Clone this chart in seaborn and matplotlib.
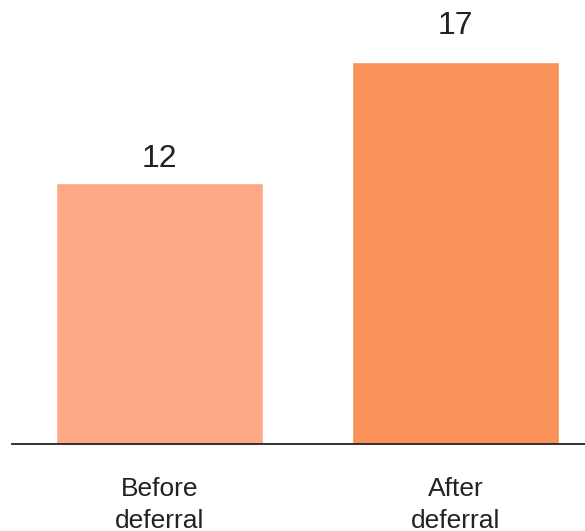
import matplotlib
matplotlib.use("Agg")
import matplotlib.pyplot as plt
import seaborn as sns
import pandas as pd

# Data
categories = ["Before\ndeferral", "After\ndeferral"]
values = [12, 17]
colors = ["#FDA987", "#FA9259"]

sns.set_theme(style="white")
plt.rcParams["font.family"] = ["Liberation Sans", "DejaVu Sans"]

df = pd.DataFrame({"stage": categories, "value": values})

fig = plt.figure(figsize=(5.85, 5.31), dpi=100)
ax = fig.add_axes([12 / 585, 87 / 531, 1 - 12 / 585, 1 - 87 / 531])

sns.barplot(data=df, x="stage", y="value", hue="stage", palette=colors,
            width=0.7, legend=False, ax=ax, saturation=1)

# value labels above each bar (gap in points)
label_pad = [11.5, 20.2]
for i, v in enumerate(values):
    ax.annotate(str(v), (i, v), xytext=(0, label_pad[i]), textcoords="offset points",
                ha="center", va="baseline", fontsize=23, color="#222222")

ax.set_xlim(-0.498, 1.4375)
ax.set_ylim(1.125, 19.6)
ax.set_xlabel("")
ax.set_ylabel("")
ax.set_yticks([])
ax.tick_params(axis="x", length=0, pad=23.5, labelsize=19, labelcolor="#222222")
for lbl in ax.get_xticklabels():
    lbl.set_linespacing(1.45)

for side in ["top", "right", "left"]:
    ax.spines[side].set_visible(False)
ax.spines["bottom"].set_color("#222222")
ax.spines["bottom"].set_linewidth(1.3)

fig.savefig("out.png", dpi=100)
